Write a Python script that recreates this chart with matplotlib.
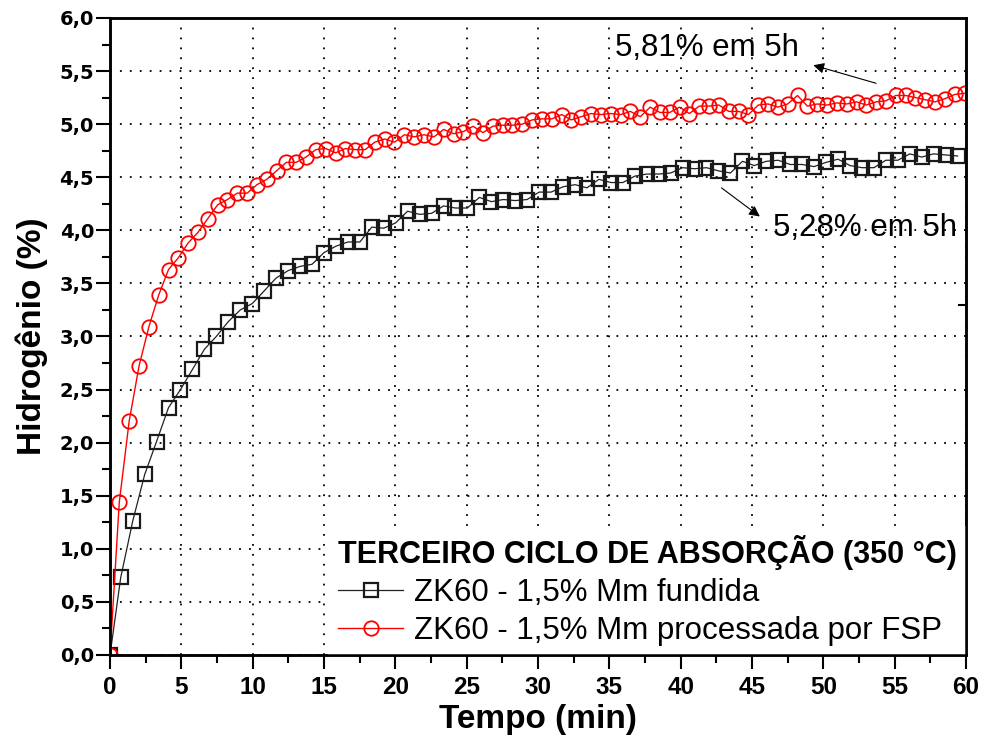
import matplotlib
matplotlib.use("Agg")
import matplotlib.pyplot as plt
from matplotlib.ticker import MultipleLocator, FormatStrFormatter, FuncFormatter

# --- data -------------------------------------------------------------
tempo_fundida = [0.00, 0.75, 1.59, 2.43, 3.26, 4.10, 4.94, 5.78, 6.62, 7.45,
                 8.29, 9.13, 9.97, 10.81, 11.64, 12.48, 13.32, 14.16, 15.00, 15.83,
                 16.67, 17.51, 18.35, 19.19, 20.02, 20.86, 21.70, 22.54, 23.38, 24.21,
                 25.05, 25.89, 26.73, 27.57, 28.40, 29.24, 30.08, 30.92, 31.76, 32.60,
                 33.43, 34.27, 35.11, 35.95, 36.78, 37.62, 38.46, 39.30, 40.14, 40.97,
                 41.81, 42.65, 43.49, 44.33, 45.16, 46.00, 46.84, 47.68, 48.52, 49.35,
                 50.19, 51.03, 51.87, 52.71, 53.55, 54.38, 55.22, 56.06, 56.90, 57.73,
                 58.57, 59.41]
h_fundida = [0.00, 0.73, 1.26, 1.70, 2.01, 2.33, 2.50, 2.69, 2.88, 3.00,
             3.14, 3.25, 3.31, 3.43, 3.55, 3.62, 3.66, 3.68, 3.79, 3.85,
             3.89, 3.89, 4.03, 4.02, 4.07, 4.18, 4.15, 4.16, 4.23, 4.21,
             4.21, 4.31, 4.27, 4.29, 4.28, 4.29, 4.36, 4.36, 4.41, 4.43,
             4.40, 4.48, 4.45, 4.45, 4.51, 4.53, 4.53, 4.54, 4.59, 4.58,
             4.59, 4.56, 4.54, 4.65, 4.61, 4.65, 4.66, 4.62, 4.62, 4.60,
             4.64, 4.67, 4.61, 4.59, 4.59, 4.66, 4.66, 4.72, 4.69, 4.72,
             4.71, 4.70]

tempo_fsp = [0.00, 0.65, 1.34, 2.03, 2.72, 3.41, 4.10, 4.78, 5.47, 6.16,
             6.85, 7.54, 8.23, 8.92, 9.61, 10.30, 10.99, 11.67, 12.36, 13.05,
             13.74, 14.43, 15.12, 15.81, 16.50, 17.19, 17.88, 18.56, 19.25, 19.94,
             20.63, 21.32, 22.01, 22.70, 23.39, 24.08, 24.77, 25.45, 26.14, 26.83,
             27.52, 28.21, 28.90, 29.59, 30.28, 30.97, 31.66, 32.34, 33.03, 33.72,
             34.41, 35.10, 35.79, 36.48, 37.17, 37.86, 38.55, 39.23, 39.92, 40.61,
             41.30, 41.99, 42.68, 43.37, 44.06, 44.75, 45.44, 46.13, 46.81, 47.50,
             48.19, 48.88, 49.57, 50.26, 50.95, 51.64, 52.33, 53.02, 53.71, 54.39,
             55.08, 55.77, 56.46, 57.15, 57.84, 58.53, 59.22, 59.91]
h_fsp = [0.00, 1.44, 2.20, 2.72, 3.09, 3.39, 3.63, 3.74, 3.88, 3.98,
         4.11, 4.24, 4.29, 4.35, 4.35, 4.43, 4.48, 4.56, 4.64, 4.64,
         4.69, 4.76, 4.77, 4.73, 4.77, 4.76, 4.76, 4.83, 4.86, 4.83,
         4.90, 4.88, 4.90, 4.88, 4.95, 4.91, 4.93, 4.98, 4.92, 4.98,
         4.99, 4.99, 5.00, 5.04, 5.05, 5.05, 5.09, 5.04, 5.07, 5.10,
         5.09, 5.10, 5.09, 5.12, 5.07, 5.16, 5.11, 5.11, 5.16, 5.10,
         5.17, 5.17, 5.18, 5.12, 5.12, 5.09, 5.18, 5.19, 5.16, 5.19,
         5.27, 5.17, 5.19, 5.18, 5.20, 5.19, 5.21, 5.18, 5.21, 5.22,
         5.27, 5.27, 5.25, 5.23, 5.21, 5.24, 5.28, 5.29]

label_fundida = "ZK60 - 1,5% Mm fundida"
label_fsp = "ZK60 - 1,5% Mm processada por FSP"
legend_title = "TERCEIRO CICLO DE ABSORÇÃO (350 °C)"

nota_fsp = "5,81% em 5h"
nota_fundida = "5,28% em 5h"

right_ticks = [3.3]

# --- figure -----------------------------------------------------------
fig = plt.figure(figsize=(9.85, 7.4), dpi=100)
ax = fig.add_axes([0.1117, 0.1149, 0.8690, 0.8608])

ax.plot(tempo_fundida, h_fundida, color="#222222", lw=0.9, marker="s",
        ms=9.4, mfc="none", mec="#1a1a1a", mew=1.6, label=label_fundida, zorder=3)
ax.plot(tempo_fsp, h_fsp, color="#ff0000", lw=1.0, marker="o",
        ms=10.4, mfc="none", mec="#ff0000", mew=1.3, label=label_fsp, zorder=4)

ax.set_xlim(0, 60)
ax.set_ylim(0, 6.0)
ax.xaxis.set_major_locator(MultipleLocator(5))
ax.xaxis.set_minor_locator(MultipleLocator(2.5))
ax.yaxis.set_major_locator(MultipleLocator(0.5))
ax.yaxis.set_minor_locator(MultipleLocator(0.25))
ax.yaxis.set_major_formatter(FuncFormatter(lambda v, p: f"{v:.1f}".replace(".", ",")))
ax.xaxis.set_major_formatter(FormatStrFormatter("%d"))

ax.grid(True, which="major", color="black", lw=1.3, linestyle=(0, (1, 4.5)))
ax.set_axisbelow(True)

for s in ax.spines.values():
    s.set_linewidth(1.8)

ax.tick_params(which="both", direction="out", top=False, right=False, width=1.5)
ax.tick_params(which="major", length=10)
ax.tick_params(which="minor", length=5.5)
ax.tick_params(axis="x", pad=5, labelsize=17.5)
ax.tick_params(axis="y", pad=1.5, labelsize=14)
for lbl in ax.get_xticklabels():
    lbl.set_fontfamily("Liberation Sans")
    lbl.set_fontweight("bold")
for lbl in ax.get_yticklabels():
    lbl.set_fontfamily("DejaVu Sans")
    lbl.set_fontweight("bold")

ax.set_xlabel("Tempo (min)", fontsize=24, fontweight="bold",
              fontfamily="Liberation Sans", labelpad=4)
ax.set_ylabel("Hidrogênio (%)", fontsize=24, fontweight="bold",
              fontfamily="Liberation Sans", labelpad=8)

# stray tick on the right spine
ax_r = ax.twinx()
ax_r.set_ylim(ax.get_ylim())
ax_r.set_yticks(right_ticks)
ax_r.tick_params(axis="y", direction="in", length=6, width=1.5, labelright=False)
for s in ax_r.spines.values():
    s.set_linewidth(1.8)

# annotations
arrow_kw = dict(arrowstyle="-|>", color="black", lw=0.8, mutation_scale=16,
                shrinkA=0, shrinkB=0)
ax.annotate("", xy=(49.3, 5.555), xytext=(53.7, 5.385), arrowprops=arrow_kw, zorder=6)
ax.annotate("", xy=(45.55, 4.13), xytext=(42.86, 4.40), arrowprops=arrow_kw, zorder=6)
ax.text(35.4, 5.72, nota_fsp, fontsize=22.5, fontfamily="Liberation Sans",
        ha="left", va="center", zorder=6)
ax.text(46.46, 4.02, nota_fundida, fontsize=22.5, fontfamily="Liberation Sans",
        ha="left", va="center", zorder=6)

# legend
leg = ax.legend(loc="lower right", bbox_to_anchor=(1.0, 0.0), borderaxespad=0.0,
                title=legend_title, alignment="left",
                prop={"family": "Liberation Sans", "size": 22.5},
                title_fontproperties={"family": "Liberation Sans", "size": 22,
                                      "weight": "bold"},
                frameon=True, fancybox=False, framealpha=1.0,
                facecolor="white", edgecolor="none",
                handlelength=2.1, handletextpad=0.35, labelspacing=0.25,
                borderpad=0.3)
leg.set_zorder(5)

fig.savefig("out.png", dpi=100)
